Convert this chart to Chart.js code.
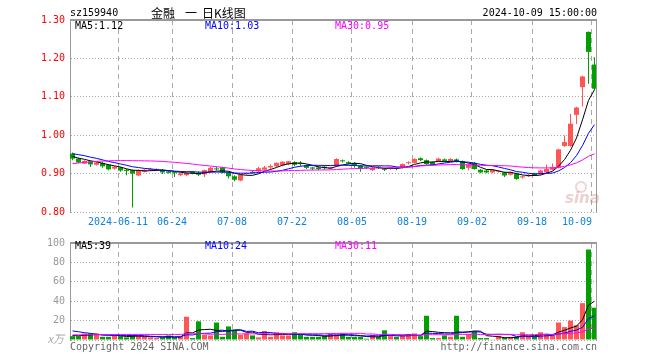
<!DOCTYPE html>
<html>
<head>
<meta charset="utf-8">
<script src="https://cdn.jsdelivr.net/npm/chart.js@4.4.1/dist/chart.umd.min.js"></script>
<style>
body { margin: 0; background: #fff; }
#wrap { position: relative; width: 660px; height: 360px; }
canvas { position: absolute; left: 0; }
#k { top: 0; }
#v { top: 232px; }
</style>
</head>
<body>
<div id="wrap">
<canvas id="k" width="660" height="232"></canvas>
<canvas id="v" width="660" height="128"></canvas>
</div>
<script>
// trading days shown on the chart
var dates = [
	'2024-05-29','2024-05-30','2024-05-31','2024-06-03','2024-06-04','2024-06-05','2024-06-06','2024-06-07',
	'2024-06-11','2024-06-12','2024-06-13','2024-06-14','2024-06-17','2024-06-18','2024-06-19','2024-06-20','2024-06-21',
	'2024-06-24','2024-06-25','2024-06-26','2024-06-27','2024-06-28','2024-07-01','2024-07-02','2024-07-03','2024-07-04','2024-07-05',
	'2024-07-08','2024-07-09','2024-07-10','2024-07-11','2024-07-12','2024-07-15','2024-07-16','2024-07-17','2024-07-18','2024-07-19',
	'2024-07-22','2024-07-23','2024-07-24','2024-07-25','2024-07-26','2024-07-29','2024-07-30','2024-07-31','2024-08-01','2024-08-02',
	'2024-08-05','2024-08-06','2024-08-07','2024-08-08','2024-08-09','2024-08-12','2024-08-13','2024-08-14','2024-08-15','2024-08-16',
	'2024-08-19','2024-08-20','2024-08-21','2024-08-22','2024-08-23','2024-08-26','2024-08-27','2024-08-28','2024-08-29','2024-08-30',
	'2024-09-02','2024-09-03','2024-09-04','2024-09-05','2024-09-06','2024-09-09','2024-09-10','2024-09-11','2024-09-12','2024-09-13',
	'2024-09-18','2024-09-19','2024-09-20','2024-09-23','2024-09-24','2024-09-25','2024-09-26','2024-09-27','2024-09-30',
	'2024-10-08','2024-10-09'
];

var open = [
	0.952,0.939,0.926,0.932,0.923,0.928,0.923,0.913,0.916,0.910,0.909,0.895,0.905,0.909,0.909,0.910,0.906,
	0.903,0.896,0.896,0.905,0.902,0.898,0.904,0.913,0.916,0.903,0.893,0.882,0.899,0.904,0.906,0.910,0.916,
	0.919,0.922,0.925,0.930,0.927,0.922,0.916,0.916,0.918,0.913,0.920,0.934,0.930,0.928,0.921,0.917,0.909,
	0.918,0.912,0.912,0.914,0.915,0.927,0.928,0.940,0.935,0.930,0.932,0.937,0.933,0.937,0.932,0.915,0.928,
	0.910,0.908,0.903,0.905,0.903,0.897,0.900,0.890,0.893,0.900,0.899,0.903,0.910,0.915,0.972,0.972,1.053,
	1.125,1.269,1.184
];
var high = [
	0.955,0.941,0.935,0.934,0.931,0.931,0.925,0.920,0.918,0.912,0.911,0.911,0.912,0.915,0.914,0.912,0.907,
	0.905,0.902,0.904,0.907,0.906,0.910,0.917,0.918,0.918,0.905,0.896,0.899,0.903,0.908,0.918,0.920,0.924,
	0.929,0.932,0.933,0.932,0.932,0.924,0.918,0.919,0.922,0.918,0.940,0.937,0.932,0.930,0.923,0.919,0.917,
	0.920,0.915,0.918,0.917,0.926,0.932,0.940,0.942,0.937,0.932,0.941,0.939,0.940,0.939,0.934,0.926,0.930,
	0.912,0.910,0.911,0.909,0.905,0.905,0.902,0.895,0.899,0.902,0.910,0.924,0.926,0.965,0.999,1.055,1.074,
	1.155,1.270,1.203
];
var low = [
	0.935,0.927,0.925,0.917,0.921,0.915,0.909,0.910,0.905,0.896,0.812,0.893,0.903,0.907,0.906,0.899,0.900,
	0.891,0.893,0.893,0.898,0.894,0.891,0.902,0.908,0.900,0.887,0.880,0.880,0.897,0.900,0.903,0.908,0.912,
	0.917,0.919,0.922,0.919,0.919,0.912,0.909,0.909,0.910,0.911,0.918,0.929,0.924,0.915,0.905,0.912,0.907,
	0.912,0.907,0.910,0.909,0.913,0.924,0.926,0.933,0.923,0.921,0.930,0.931,0.931,0.929,0.910,0.909,0.910,
	0.901,0.901,0.901,0.903,0.891,0.895,0.884,0.887,0.891,0.894,0.897,0.901,0.908,0.913,0.970,0.970,1.029,
	1.075,1.134,1.118
];
var close = [
	0.939,0.929,0.933,0.924,0.929,0.919,0.911,0.918,0.908,0.907,0.900,0.909,0.910,0.912,0.911,0.903,0.902,
	0.901,0.900,0.902,0.900,0.897,0.909,0.915,0.911,0.903,0.893,0.884,0.897,0.901,0.902,0.914,0.916,0.920,
	0.928,0.931,0.932,0.923,0.925,0.915,0.913,0.912,0.914,0.916,0.938,0.932,0.926,0.922,0.912,0.915,0.915,
	0.914,0.910,0.916,0.912,0.925,0.929,0.938,0.935,0.925,0.923,0.939,0.933,0.938,0.931,0.912,0.924,0.912,
	0.903,0.903,0.910,0.906,0.895,0.903,0.886,0.893,0.897,0.896,0.908,0.912,0.917,0.963,0.982,1.030,1.072,
	1.153,1.217,1.121
];
// volume, in 万
var volume = [
	4,4,6.7,6.7,6.7,3.3,3.3,4.7,4,2.7,4.7,4,3.3,2.7,2,2.7,4.7,
	2.7,3.3,24,2,19.3,5.3,4.7,18,3.3,14,10,5.3,6.7,4.7,2.7,9.3,3.3,
	8,4.7,4.7,8,5.3,3.3,3.3,3.3,4,6.7,6,6.7,3.3,3.3,3.3,1.3,5.3,
	3.3,10,4,3.3,4,6,6.7,4,25,2,2,4.7,3.3,25,3.3,6,9,
	2,2,0.7,4,2.7,2.7,3.3,8,4,4,8,6,4.7,18,13.3,20,15.3,
	38,93.3,33.3
];
// sessions before the first candle, only used to start the moving averages
var priorClose = [0.880,0.884,0.887,0.890,0.893,0.897,0.900,0.903,0.906,0.910,0.913,0.917,0.921,0.925,0.929,
	0.933,0.937,0.941,0.945,0.950,0.955,0.960,0.962,0.960,0.958,0.952,0.948,0.944,0.941];
var priorVolume = [3,4,3,3,4,3,3,3,2,4,3,4,3,4,3,3,3,3,4,3,12,16,14,15,13,5,5,4,5];

var tickDates = ['2024-06-11','2024-06-24','2024-07-08','2024-07-22','2024-08-05','2024-08-19','2024-09-02','2024-09-18','2024-10-09'];
var tickLabels = ['2024-06-11','06-24','07-08','07-22','08-05','08-19','09-02','09-18','10-09     '];

var RED = '#ff5555';
var GREEN = '#00a000';
var MONO = '"DejaVu Sans Mono", monospace';

function movingAverage(prior, values, n) {
	var all = prior.concat(values);
	var out = [];
	for (var i=0; i<values.length; i++) {
		var end = prior.length + i + 1;
		var sum = 0;
		for (var j=end-n; j<end; j++) sum += all[j];
		out.push(sum / n);
	}
	return out;
}

function points(arr) {
	return arr.map(function (v, i) { return {x: i, y: v}; });
}

function candleColor(ctx) {
	var i = ctx.dataIndex;
	return close[i] >= open[i] ? RED : GREEN;
}

function maLine(values, color) {
	return {
		type: 'line',
		data: points(values),
		borderColor: color,
		borderWidth: 1,
		pointRadius: 0,
		tension: 0,
		order: 0
	};
}

function xScale(showLabels) {
	return {
		type: 'linear',
		bounds: 'data',
		offset: false,
		min: -5/12,
		max: dates.length - 1 + 5/12,
		afterBuildTicks: function (scale) {
			scale.ticks = tickDates.map(function (d) { return {value: dates.indexOf(d) - 5/12}; });
		},
		afterFit: function (scale) { scale.height = showLabels ? 20 : 0; },
		grid: {color: '#aaaaaa', drawTicks: false, offset: false},
		border: {display: false, dash: [5, 4]},
		ticks: {
			display: showLabels,
			autoSkip: false,
			maxRotation: 0,
			padding: 4,
			color: '#1080e0',
			font: {family: MONO, size: 10},
			callback: function (v, i) { return tickLabels[i]; }
		}
	};
}

function drawText(ctx, s, x, y, color, align, font) {
	ctx.save();
	ctx.font = font || ('10px ' + MONO);
	ctx.fillStyle = color;
	ctx.textAlign = align || 'left';
	ctx.textBaseline = 'middle';
	ctx.fillText(s, x, y);
	ctx.restore();
}

function drawFrame(chart) {
	var ctx = chart.ctx, a = chart.chartArea;
	ctx.save();
	ctx.fillStyle = '#999999';
	ctx.fillRect(a.left, a.top - 1, a.right - a.left, 2);
	ctx.fillRect(a.right - 1, a.top, 1, a.bottom - a.top);
	ctx.restore();
}

var ma5 = movingAverage(priorClose, close, 5);
var ma10 = movingAverage(priorClose, close, 10);
var ma30 = movingAverage(priorClose, close, 30);
var vma5 = movingAverage(priorVolume, volume, 5);
var vma10 = movingAverage(priorVolume, volume, 10);
var vma30 = movingAverage(priorVolume, volume, 30);

var kPlugin = {
	id: 'kText',
	beforeDatasetsDraw: function (chart) {
		var ctx = chart.ctx;
		ctx.save();
		ctx.strokeStyle = 'rgba(225,130,130,0.35)';
		ctx.lineWidth = 2;
		ctx.beginPath();
		ctx.arc(581, 187, 5, 0, Math.PI * 2);
		ctx.stroke();
		ctx.restore();
		drawText(ctx, 'sina', 565, 199, 'rgba(200,120,120,0.35)', 'left', 'italic bold 15px "DejaVu Sans"');
	},
	afterDraw: function (chart) {
		var ctx = chart.ctx;
		drawFrame(chart);
		drawText(ctx, 'sz159940', 70, 13, '#000000');
		drawText(ctx, '金融', 151, 13, '#000000', 'left', '12px "Noto Sans CJK SC"');
		drawText(ctx, '一', 185, 13, '#000000', 'left', '12px "Noto Sans CJK SC"');
		drawText(ctx, '日K线图', 202, 13, '#000000', 'left', '12px "Noto Sans CJK SC"');
		drawText(ctx, '2024-10-09 15:00:00', 597, 13, '#000000', 'right');
		drawText(ctx, 'MA5:1.12', 75, 26, '#000000');
		drawText(ctx, 'MA10:1.03', 205, 26, '#0000ff');
		drawText(ctx, 'MA30:0.95', 335, 26, '#ff00ff');
	}
};

var vPlugin = {
	id: 'vText',
	afterDraw: function (chart) {
		var ctx = chart.ctx;
		drawFrame(chart);
		drawText(ctx, 'MA5:39', 75, 14, '#000000');
		drawText(ctx, 'MA10:24', 205, 14, '#0000ff');
		drawText(ctx, 'MA30:11', 335, 14, '#ff00ff');
		drawText(ctx, 'x万', 64, 107, '#aaaaaa', 'right', 'italic 11px "Noto Sans CJK SC"');
		drawText(ctx, 'Copyright 2024 SINA.COM', 70, 115, '#666666');
		drawText(ctx, 'http://finance.sina.com.cn', 597, 115, '#666666', 'right');
	}
};

new Chart(document.getElementById('k'), {
	type: 'bar',
	data: {
		datasets: [
			{
				data: dates.map(function (d, i) { return {x: i, y: [low[i], high[i]]}; }),
				backgroundColor: candleColor,
				barThickness: 1,
				grouped: false,
				inflateAmount: 0,
				order: 3
			},
			{
				data: dates.map(function (d, i) { return {x: i, y: [open[i], close[i]]}; }),
				backgroundColor: candleColor,
				barThickness: 5,
				minBarLength: 1,
				grouped: false,
				inflateAmount: 0,
				order: 2
			},
			maLine(ma30, '#ff00ff'),
			maLine(ma10, '#0000ff'),
			maLine(ma5, '#000000')
		]
	},
	options: {
		responsive: false,
		animation: false,
		events: [],
		layout: {autoPadding: false, padding: {left: 0, right: 63, top: 20, bottom: 0}},
		plugins: {legend: {display: false}, tooltip: {enabled: false}},
		scales: {
			x: xScale(true),
			y: {
				min: 0.8,
				max: 1.3,
				afterFit: function (scale) { scale.width = 70; },
				grid: {color: '#aaaaaa', drawTicks: false},
				border: {color: '#999999', dash: [1, 2]},
				ticks: {
					stepSize: 0.1,
					padding: 5,
					color: '#ff0000',
					font: {family: MONO, size: 10},
					callback: function (v) { return v.toFixed(2); }
				}
			}
		}
	},
	plugins: [kPlugin]
});

new Chart(document.getElementById('v'), {
	type: 'bar',
	data: {
		datasets: [
			{
				data: points(volume),
				backgroundColor: candleColor,
				barThickness: 5,
				grouped: false,
				inflateAmount: 0,
				order: 2
			},
			maLine(vma30, '#ff00ff'),
			maLine(vma10, '#0000ff'),
			maLine(vma5, '#000000')
		]
	},
	options: {
		responsive: false,
		animation: false,
		events: [],
		layout: {autoPadding: false, padding: {left: 0, right: 63, top: 8, bottom: 20}},
		plugins: {legend: {display: false}, tooltip: {enabled: false}},
		scales: {
			x: xScale(false),
			y: {
				min: 0,
				max: 100,
				afterFit: function (scale) { scale.width = 70; },
				grid: {color: '#aaaaaa', drawTicks: false},
				border: {color: '#999999', dash: [1, 2]},
				ticks: {
					stepSize: 20,
					padding: 5,
					color: '#999999',
					font: {family: MONO, size: 10},
					callback: function (v) { return v === 0 ? '' : v; }
				}
			}
		}
	},
	plugins: [vPlugin]
});
</script>
</body>
</html>
